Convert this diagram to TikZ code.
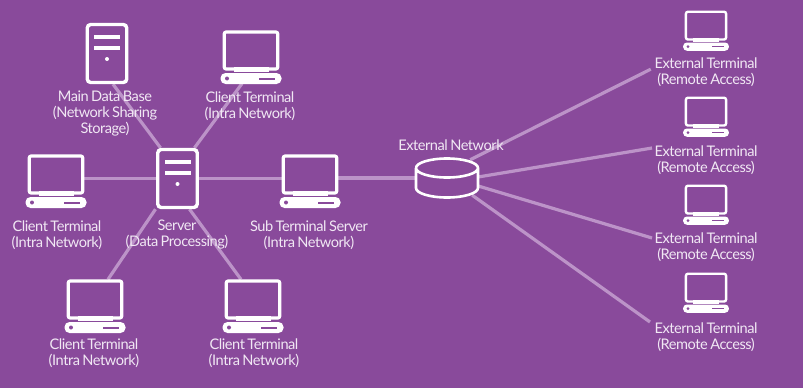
\documentclass[tikz,border=0pt]{standalone}
\usepackage{fontspec}
\setmainfont[LetterSpace=-3.2,WordSpace=0.75]{Lato}
\usetikzlibrary{backgrounds}
\definecolor{bgp}{HTML}{894A9B}
\definecolor{linkc}{HTML}{BC93C8}
\definecolor{txtc}{HTML}{F1E8F4}
\tikzset{
  x=1pt,y=-1pt,
  lbl/.style={text=txtc,align=center,inner sep=0pt,font=\fontsize{14.6}{16}\selectfont},
  link/.style={draw=linkc,line width=3.2pt},
  tower/.style={draw=white,line width=3.4pt,rounded corners=3.5pt,minimum width=39.5pt,minimum height=58pt,inner sep=0pt},
  screenbox/.style={draw=white,line width=#1,rounded corners=2pt,inner sep=0pt}
}
% name, cx, top of tower
\newcommand\towericon[3]{%
  \node[tower] (#1) at (#2,#3+30.5) {};
  \fill[white] (#2-13,#3+11.5) rectangle (#2+13,#3+16);
  \fill[white] (#2-13,#3+22.5) rectangle (#2+13,#3+27);
  \fill[white] (#2,#3+36) circle (2);
}
% name, cx, top, scale
\newcommand\pcicon[4]{%
  \node[screenbox=#4*3.2pt,minimum width=#4*53.5pt,minimum height=#4*37pt] (#1) at (#2,#3+#4*19.5) {};
  \fill[white] (#2-#4*17.5,#3+#4*36) rectangle (#2+#4*17.5,#3+#4*41);
  \fill[white,rounded corners=#4*5pt] (#2-#4*30.5,#3+#4*42) rectangle (#2+#4*30.5,#3+#4*53);
  \fill[bgp] (#2-#4*24,#3+#4*47.5) circle (#4*2);
  \fill[bgp] (#2+#4*8,#3+#4*46.5) rectangle (#2+#4*24,#3+#4*48.5);
}
\begin{document}
\begin{tikzpicture}
\useasboundingbox (0,0) rectangle (803,388);
\begin{scope}[on background layer]
  \fill[bgp] (0,0) rectangle (803,388);
\end{scope}
% icons
\towericon{db}{107}{23}
\towericon{srv}{177.5}{148}
\pcicon{top}{251}{31}{1}
\pcicon{left}{56}{155}{1}
\pcicon{sub}{310}{155}{1}
\pcicon{bl}{95}{280}{1}
\pcicon{br}{253}{280}{1}
\pcicon{e1}{706}{11}{0.75}
\pcicon{e2}{706}{97}{0.75}
\pcicon{e3}{706}{185}{0.75}
\pcicon{e4}{706}{273}{0.75}
% cylinder
\node[minimum width=62pt,minimum height=38pt,inner sep=0pt] (net) at (447,178) {};
\draw[white,line width=2.6pt] (416,168) arc[start angle=180,end angle=540,x radius=31,y radius=-9.5]
  (416,168) -- (416,188) arc[start angle=180,end angle=360,x radius=31,y radius=-9.5] -- (478,168);
% labels
\node[lbl] (ldb) at (105,114) {Main Data Base\\(Network Sharing\\Storage)};
\node[lbl] (ltop) at (250,106.5) {Client Terminal\\(Intra Network)};
\node[lbl] (lleft) at (57,235) {Client Terminal\\(Intra Network)};
\node[lbl] (lsrv) at (177,235) {Server\\(Data Processing)};
\node[lbl] (lsub) at (309,235) {Sub Terminal Server\\(Intra Network)};
\node[lbl] (lbl1) at (94,353.5) {Client Terminal\\(Intra Network)};
\node[lbl] (lbr) at (254,353.5) {Client Terminal\\(Intra Network)};
\node[lbl] (lnet) at (451,145) {External Network};
\node[lbl] (le1) at (706,72.5) {External Terminal\\(Remote Access)};
\node[lbl] (le2) at (706,160) {External Terminal\\(Remote Access)};
\node[lbl] (le3) at (706,247) {External Terminal\\(Remote Access)};
\node[lbl] (le4) at (706,337) {External Terminal\\(Remote Access)};
% connectors
\begin{scope}[on background layer]
  \draw[link] ([xshift=6pt]db.south) -- ([xshift=-17pt]srv.north);
  \draw[link] ([xshift=-9pt,yshift=-13pt]top.south) -- ([xshift=17pt]srv.north);
  \draw[link] (left.east |- srv.west) -- (srv.west);
  \draw[link] (srv.east) -- (sub.west |- srv.east);
  \draw[link] (sub.east |- net.west) -- (net.west);
  \draw[link] ([xshift=-22pt]srv.south) -- ([xshift=13pt]bl.north);
  \draw[link] ([xshift=12pt]srv.south) -- ([xshift=-12pt]br.north);
  \draw[link] ([xshift=-8pt,yshift=-1pt]net.north east) -- ([xshift=-34pt,yshift=-28.5pt]e1.south west);
  \draw[link] ([yshift=1pt]net.east) -- ([xshift=-54pt,yshift=12pt]le2.center);
  \draw[link] ([yshift=-8pt]net.east) -- ([xshift=-54pt,yshift=9pt]le3.center);
  \draw[link] ([xshift=-6pt,yshift=2pt]net.south east) -- ([xshift=-56pt,yshift=15pt]le4.center);
\end{scope}
\end{tikzpicture}
\end{document}
